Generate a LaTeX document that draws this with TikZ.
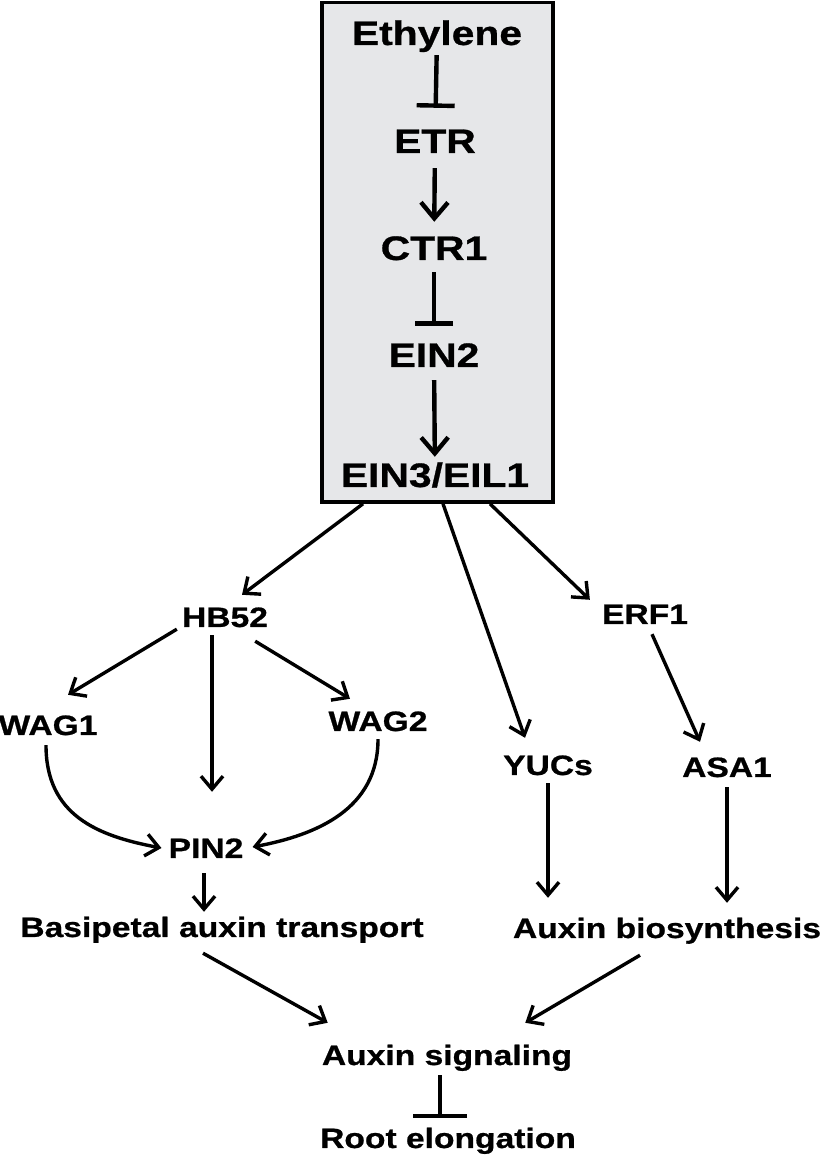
\documentclass[tikz,border=0pt]{standalone}
\usepackage{fontspec}
\setmainfont{Liberation Sans}[FakeStretch=1.2, BoldFeatures={FakeBold=0.8}]
\definecolor{coregray}{RGB}{230,231,233}
\usetikzlibrary{arrows.meta}

\begin{document}
\begin{tikzpicture}[x=1pt, y=1pt,
    every node/.style={inner sep=0pt, anchor=base},
    boxlbl/.style={font=\bfseries\fontsize{34}{40}\selectfont, text height=25pt, text depth=7pt},
    sublbl/.style={font=\bfseries\fontsize{28}{33}\selectfont, text height=20pt, text depth=6pt},
    boxact/.style={-{Straight Barb[length=16pt, width=27pt]}, line width=4.4pt},
    boxinh/.style={-{Bar[width=38pt]}, line width=4.4pt},
    act/.style={-{Straight Barb[length=13pt, width=22pt]}, line width=3.4pt},
    inh/.style={-{Bar[width=54pt]}, line width=3.4pt}]
    \useasboundingbox (0,0) rectangle (826,1155);

    % Core pathway box
    \node[draw, line width=3.6pt, fill=coregray, anchor=center, minimum width=231pt, minimum height=499.5pt] (core) at (437.5,902.75) {};

    % Core nodes
    \node[boxlbl] (eth) at (437,1110) {Ethylene};
    \node[boxlbl] (etr) at (435,1002) {ETR};
    \node[boxlbl] (ctr) at (434,895) {CTR1};
    \node[boxlbl] (ein2) at (434,788) {EIN2};
    \node[boxlbl] (ein3) at (435,668) {EIN3/EIL1};

    \draw[boxinh, shorten <=3pt, shorten >=20pt] (eth) -- (etr);
    \draw[boxact, shorten <=8pt, shorten >=13pt] (etr) -- (ctr);
    \draw[boxinh, shorten <=5pt, shorten >=16pt] (ctr) -- (ein2);
    \draw[boxact, shorten <=6pt, shorten >=5pt] (ein2) -- (ein3);

    % Downstream nodes
    \node[sublbl] (hb52) at (225,528) {HB52};
    \node[sublbl] (wag1) at (48,420) {WAG1};
    \node[sublbl] (wag2) at (378,424) {WAG2};
    \node[sublbl] (pin2) at (206,297) {PIN2};
    \node[sublbl] (yucs) at (548,380) {YUCs};
    \node[sublbl] (erf1) at (645,531) {ERF1};
    \node[sublbl] (asa1) at (727,378) {ASA1};
    \node[sublbl] (basi) at (222,218) {Basipetal auxin transport};
    \node[sublbl] (bios) at (667,217) {Auxin biosynthesis};
    \node[sublbl] (sig) at (447,90) {Auxin signaling};
    \node[sublbl] (root) at (448,7) {Root elongation};

    % Arrows from the box
    \draw[act] ([xshift=-74.5pt]core.south) -- ([xshift=17pt,yshift=12pt]hb52.north);
    \draw[act] ([xshift=5.5pt]core.south) -- ([xshift=-23pt,yshift=17pt]yucs.north);
    \draw[act] ([xshift=52.5pt]core.south) -- ([xshift=-12pt,yshift=4pt]erf1.north west);

    % HB52 branch
    \draw[act] ([xshift=-5pt,yshift=4pt]hb52.south west) -- ([xshift=20pt,yshift=20pt]wag1.north);
    \draw[act] ([xshift=-13pt,yshift=-2pt]hb52.south) -- ([xshift=6pt,yshift=46pt]pin2.north);
    \draw[act] ([xshift=-13pt,yshift=-8pt]hb52.south east) -- ([xshift=-28pt,yshift=12pt]wag2.north);
    \draw[act] ([xshift=-2pt,yshift=-4pt]wag1.south) .. controls +(0,-70pt) and +(-64pt,12pt) .. ([xshift=-7pt,yshift=3pt]pin2.west);
    \draw[act] ([yshift=-2pt]wag2.south) .. controls +(0,-70pt) and +(64pt,12pt) .. ([xshift=9pt,yshift=4pt]pin2.east);
    \draw[act] ([xshift=-2pt,yshift=-9pt]pin2.south) -- ([xshift=-18pt,yshift=5pt]basi.north);

    % Biosynthesis branch
    \draw[act, shorten <=2pt, shorten >=20pt] (yucs.south) -- (yucs.south |- bios.north);
    \draw[act] ([xshift=7pt,yshift=-4pt]erf1.south) -- ([xshift=-27pt,yshift=15pt]asa1.north);
    \draw[act, shorten <=4pt, shorten >=15pt] (asa1.south) -- (asa1.south |- bios.north);

    % Signaling
    \draw[act] ([xshift=-19pt,yshift=-10pt]basi.south) -- ([xshift=6pt,yshift=22pt]sig.north west);
    \draw[act] ([xshift=-27pt,yshift=-11pt]bios.south) -- ([xshift=-47pt,yshift=22pt]sig.north east);
    \draw[inh, shorten <=4pt, shorten >=10pt] ([xshift=-7pt]sig.south) -- ([xshift=-8pt]root.north);
\end{tikzpicture}
\end{document}
